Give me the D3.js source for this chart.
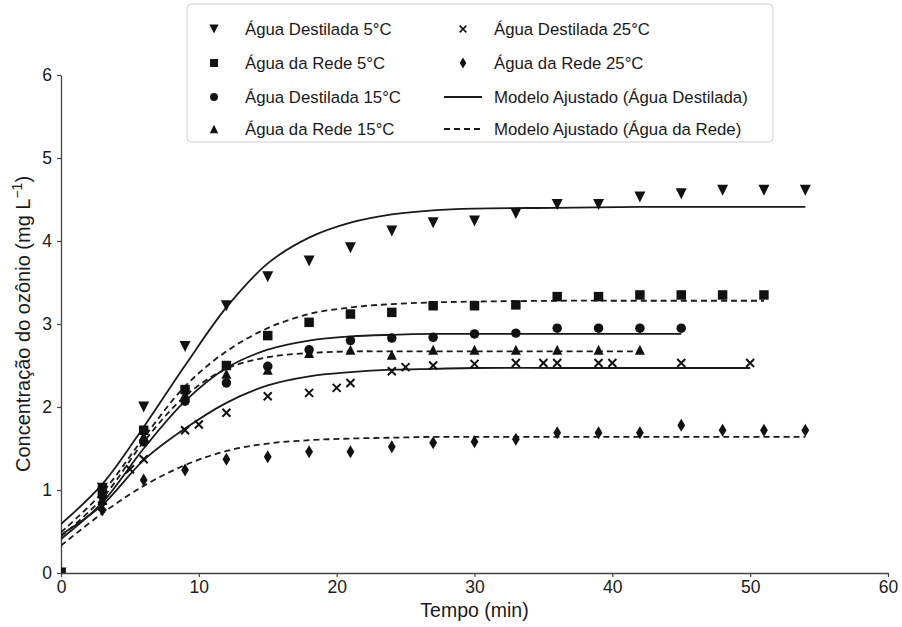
<!DOCTYPE html>
<html><head><meta charset="utf-8">
<script src="https://cdn.jsdelivr.net/npm/d3@7"></script>
<style>
html,body{margin:0;padding:0;background:#fff;}
svg text{font-family:"Liberation Sans",Arial,sans-serif;fill:#1a1a1a;}
</style></head>
<body>
<svg id="chart" width="902" height="627"></svg>
<script>
// ---- data ----
const xTicks = [0, 10, 20, 30, 40, 50, 60];
const yTicks = [0, 1, 2, 3, 4, 5, 6];

const destilada5 = [[0,0],[3,1.02],[6,2.0],[9,2.73],[12,3.22],[15,3.57],[18,3.76],[21,3.92],[24,4.12],[27,4.22],[30,4.24],[33,4.33],[36,4.44],[39,4.44],[42,4.53],[45,4.57],[48,4.61],[51,4.61],[54,4.61]];
const rede5 = [[0,0],[3,1.0],[6,1.72],[9,2.21],[12,2.50],[15,2.86],[18,3.02],[21,3.12],[24,3.14],[27,3.22],[30,3.22],[33,3.23],[36,3.33],[39,3.33],[42,3.35],[45,3.35],[48,3.35],[51,3.35]];
const destilada15 = [[0,0],[3,0.93],[6,1.58],[9,2.07],[12,2.29],[15,2.49],[18,2.69],[21,2.80],[24,2.83],[27,2.84],[30,2.88],[33,2.89],[36,2.95],[39,2.95],[42,2.95],[45,2.95]];
const rede15 = [[0,0],[3,0.88],[6,1.65],[9,2.15],[12,2.40],[15,2.45],[18,2.65],[21,2.69],[24,2.63],[27,2.69],[30,2.69],[33,2.69],[36,2.69],[39,2.69],[42,2.69]];
const destilada25 = [[0,0],[3,0.80],[5,1.25],[6,1.37],[9,1.72],[10,1.79],[12,1.93],[15,2.13],[18,2.17],[20,2.23],[21,2.29],[24,2.43],[25,2.48],[27,2.50],[30,2.52],[33,2.53],[35,2.53],[36,2.53],[39,2.53],[40,2.53],[45,2.53],[50,2.53]];
const rede25 = [[0,0],[3,0.76],[6,1.12],[9,1.24],[12,1.37],[15,1.40],[18,1.46],[21,1.46],[24,1.52],[27,1.57],[30,1.58],[33,1.61],[36,1.69],[39,1.69],[42,1.69],[45,1.78],[48,1.72],[51,1.72],[54,1.72]];

// fitted model curves
const fitDestilada5 = [[0,0.59],[3,1.07],[6,1.76],[9,2.50],[12,3.20],[15,3.73],[18,4.04],[21,4.22],[24,4.32],[27,4.37],[30,4.39],[36,4.40],[42,4.41],[48,4.41],[54,4.41]];
const fitRede5 = [[0,0.49],[3,0.97],[6,1.63],[9,2.25],[12,2.67],[15,2.95],[18,3.12],[21,3.20],[24,3.24],[27,3.26],[30,3.27],[36,3.28],[42,3.28],[51,3.28]];
const fitDestilada15 = [[0,0.41],[3,0.85],[6,1.50],[9,2.07],[12,2.47],[15,2.69],[18,2.80],[21,2.85],[24,2.87],[27,2.88],[30,2.88],[36,2.88],[45,2.88]];
const fitRede15 = [[0,0.44],[3,0.90],[6,1.58],[9,2.13],[12,2.46],[15,2.60],[18,2.65],[21,2.67],[24,2.67],[30,2.67],[36,2.67],[42,2.67]];
const fitDestilada25 = [[0,0.46],[3,0.82],[6,1.36],[9,1.74],[12,2.05],[15,2.26],[18,2.37],[21,2.42],[24,2.45],[27,2.46],[30,2.47],[36,2.47],[42,2.47],[50,2.47]];
const fitRede25 = [[0,0.33],[3,0.72],[6,1.05],[9,1.30],[12,1.47],[15,1.56],[18,1.60],[21,1.62],[24,1.63],[27,1.64],[30,1.64],[36,1.64],[42,1.64],[48,1.64],[54,1.64]];

const seriesLabels = ["Água Destilada 5°C","Água da Rede 5°C","Água Destilada 15°C","Água da Rede 15°C","Água Destilada 25°C","Água da Rede 25°C"];
const modelLabels = ["Modelo Ajustado (Água Destilada)","Modelo Ajustado (Água da Rede)"];

// ---- custom marker shapes ----
const triDown = {draw(c,s){const r=Math.sqrt(s)/2;c.moveTo(0,r);c.lineTo(-r,-r);c.lineTo(r,-r);c.closePath();}};
const triUp = {draw(c,s){const r=Math.sqrt(s)/2;c.moveTo(0,-r);c.lineTo(-r,r);c.lineTo(r,r);c.closePath();}};
const square = {draw(c,s){const r=Math.sqrt(s)/2;c.rect(-r,-r,2*r,2*r);}};
const circle = {draw(c,s){const r=Math.sqrt(s)/2;c.moveTo(r,0);c.arc(0,0,r,0,2*Math.PI);}};
const cross = {draw(c,s){const r=Math.sqrt(s)/2;c.moveTo(-r,-r);c.lineTo(r,r);c.moveTo(-r,r);c.lineTo(r,-r);}};
const thinDiamond = {draw(c,s){const r=Math.sqrt(s)/2;c.moveTo(0,-r);c.lineTo(r*0.6,0);c.lineTo(0,r);c.lineTo(-r*0.6,0);c.closePath();}};

const seriesDefs = [
  {data:destilada5, type:triDown, size:121, stroke:false},
  {data:rede5, type:square, size:90, stroke:false},
  {data:destilada15, type:circle, size:90, stroke:false},
  {data:rede15, type:triUp, size:100, stroke:false},
  {data:destilada25, type:cross, size:64, stroke:true},
  {data:rede25, type:thinDiamond, size:169, stroke:false}
];
const fitDefs = [
  {data:fitDestilada5, dash:null},
  {data:fitRede5, dash:"6,4"},
  {data:fitDestilada15, dash:null},
  {data:fitRede15, dash:"6,4"},
  {data:fitDestilada25, dash:null},
  {data:fitRede25, dash:"6,4"}
];

const svg = d3.select("#chart");
const M = {left:61, right:888, top:75, bottom:573};
const x = d3.scaleLinear().domain([0,60]).range([M.left, M.right]);
const y = d3.scaleLinear().domain([0,6]).range([M.bottom, M.top]);

svg.append("defs").append("clipPath").attr("id","clip")
  .append("rect").attr("x",M.left).attr("y",M.top-20).attr("width",M.right-M.left+20).attr("height",M.bottom-M.top+20);

// axes
const axColor = "#444";
const gx = svg.append("g").attr("transform",`translate(0,${M.bottom})`)
  .call(d3.axisBottom(x).tickValues(xTicks).tickSize(4).tickSizeOuter(0).tickPadding(4).tickFormat(d3.format("d")));
const gy = svg.append("g").attr("transform",`translate(${M.left},0)`)
  .call(d3.axisLeft(y).tickValues(yTicks).tickSize(4).tickSizeOuter(0).tickPadding(5).tickFormat(d3.format("d")));
[gx,gy].forEach(g=>{
  g.select(".domain").attr("stroke",axColor).attr("stroke-width",1.3);
  g.selectAll(".tick line").attr("stroke",axColor).attr("stroke-width",1.2);
  g.selectAll(".tick text").attr("font-size",17.5).style("fill","#1a1a1a").attr("font-family","'Liberation Sans',Arial,sans-serif");
});

// axis titles
svg.append("text").attr("x",(M.left+M.right)/2).attr("y",617).attr("text-anchor","middle")
  .attr("font-size",19.5).text("Tempo (min)");
const yl = svg.append("text").attr("transform",`translate(30,${(M.top+M.bottom)/2}) rotate(-90)`)
  .attr("text-anchor","middle").attr("font-size",20);
yl.append("tspan").text("Concentração do ozônio (mg L");
yl.append("tspan").attr("dy",-8).attr("font-size",14).text("−1");
yl.append("tspan").attr("dy",8).text(")");

// plot
const plot = svg.append("g").attr("clip-path","url(#clip)");
const line = d3.line().x(d=>x(d[0])).y(d=>y(d[1])).curve(d3.curveCatmullRom.alpha(0.5));
fitDefs.forEach(f=>{
  plot.append("path").datum(f.data).attr("d",line).attr("fill","none")
    .attr("stroke","#1a1a1a").attr("stroke-width",1.8)
    .attr("stroke-dasharray",f.dash);
});
svg.select("defs").append("clipPath").attr("id","mclip")
  .append("rect").attr("x",M.left).attr("y",0).attr("width",902-M.left).attr("height",M.bottom);
const marks = svg.append("g").attr("clip-path","url(#mclip)");
seriesDefs.forEach(s=>{
  const sym = d3.symbol().type(s.type).size(s.size);
  marks.selectAll(null).data(s.data).join("path")
    .attr("transform",d=>`translate(${x(d[0])},${y(d[1])})`)
    .attr("d",sym)
    .attr("fill",s.stroke?"none":"#111")
    .attr("stroke",s.stroke?"#111":"none")
    .attr("stroke-width",s.stroke?2:0);
});

// legend
const lg = svg.append("g");
lg.append("rect").attr("x",187).attr("y",4).attr("width",586).attr("height",138).attr("rx",4)
  .attr("fill","#fff").attr("stroke","#cfcfcf").attr("stroke-width",1);
const rowY = [29,63,97,129];
const legendItems = [
  {col:0,row:0,label:seriesLabels[0],def:seriesDefs[0]},
  {col:0,row:1,label:seriesLabels[1],def:seriesDefs[1]},
  {col:0,row:2,label:seriesLabels[2],def:seriesDefs[2]},
  {col:0,row:3,label:seriesLabels[3],def:seriesDefs[3]},
  {col:1,row:0,label:seriesLabels[4],def:seriesDefs[4]},
  {col:1,row:1,label:seriesLabels[5],def:seriesDefs[5]},
  {col:1,row:2,label:modelLabels[0],dash:null},
  {col:1,row:3,label:modelLabels[1],dash:"6,4"}
];
const colMarkX = [214, 463], colTextX = [245, 494];
legendItems.forEach(it=>{
  const cy = rowY[it.row];
  if (it.def) {
    const s = it.def;
    lg.append("path").attr("transform",`translate(${colMarkX[it.col]},${cy})`)
      .attr("d",d3.symbol().type(s.type).size(s.size*0.7))
      .attr("fill",s.stroke?"none":"#111").attr("stroke",s.stroke?"#111":"none").attr("stroke-width",s.stroke?1.6:0);
  } else {
    lg.append("line").attr("x1",444).attr("x2",482).attr("y1",cy).attr("y2",cy)
      .attr("stroke","#1a1a1a").attr("stroke-width",1.8).attr("stroke-dasharray",it.dash);
  }
  lg.append("text").attr("x",colTextX[it.col]).attr("y",cy).attr("dy","0.35em")
    .attr("font-size",16.8).text(it.label);
});
</script>
</body></html>
